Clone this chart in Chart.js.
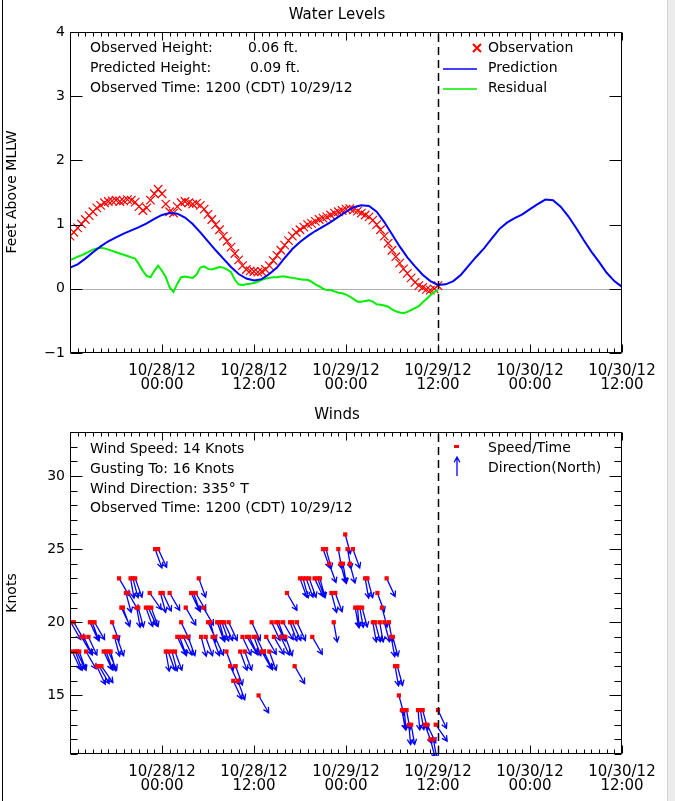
<!DOCTYPE html>
<html>
<head>
<meta charset="utf-8">
<script src="https://cdn.jsdelivr.net/npm/chart.js@4.4.0/dist/chart.umd.min.js"></script>
<style>
  body { margin: 0; width: 675px; height: 801px; overflow: hidden; position: relative; background: #fff; }
  #frame { position: absolute; left: 2px; top: 0; width: 1px; height: 801px; background: #000; }
  #bar { position: absolute; left: 667px; top: 0; width: 7px; height: 801px; background: #ececec; border-left: 1px solid #d4d4d4; }
  canvas { position: absolute; left: 0; }
</style>
</head>
<body>
<div id="frame"></div>
<div id="bar"></div>
<canvas id="waterChart" width="667" height="400" style="top:0"></canvas>
<canvas id="windChart" width="667" height="401" style="top:400px"></canvas>
<script>
// time axis is in hours from 10/27/12 12:00
const xTickHours = [12, 24, 36, 48, 60, 72];
const xTickDates = ['10/28/12', '10/28/12', '10/29/12', '10/29/12', '10/30/12', '10/30/12'];
const xTickTimes = ['00:00', '12:00', '00:00', '12:00', '00:00', '12:00'];
const nowHour = 48; // observed time 1200 10/29

// water levels (ft above MLLW)
const obsStep = 0.5; // half hourly readings
const observedHeight = [
  0.82, 0.88, 0.95, 1.01, 1.08, 1.14, 1.20, 1.26, 1.30, 1.34,
  1.36, 1.37, 1.38, 1.36, 1.37, 1.39, 1.38, 1.35, 1.28, 1.22,
  1.26, 1.38, 1.48, 1.55, 1.48, 1.32, 1.20, 1.18, 1.28, 1.34,
  1.36, 1.34, 1.32, 1.33, 1.30, 1.24, 1.16, 1.08, 1.00, 0.92,
  0.82, 0.74, 0.65, 0.55, 0.45, 0.36, 0.30, 0.28, 0.27, 0.26,
  0.27, 0.30, 0.36, 0.44, 0.52, 0.60, 0.68, 0.75, 0.82, 0.88,
  0.92, 0.96, 1.00, 1.02, 1.05, 1.08, 1.10, 1.12, 1.15, 1.18,
  1.20, 1.22, 1.24, 1.25, 1.23, 1.21, 1.18, 1.15, 1.12, 1.07,
  1.00, 0.92, 0.82, 0.71, 0.60, 0.50, 0.40, 0.31, 0.24, 0.17,
  0.10, 0.05, 0.02, -0.01, -0.02, 0.00, 0.05
];
const residualHeight = [
  0.45, 0.47, 0.50, 0.52, 0.55, 0.58, 0.61, 0.63, 0.64, 0.63,
  0.61, 0.59, 0.57, 0.55, 0.53, 0.51, 0.49, 0.47, 0.38, 0.28,
  0.20, 0.18, 0.28, 0.36, 0.28, 0.18, 0.02, -0.05, 0.08, 0.18,
  0.19, 0.18, 0.17, 0.22, 0.33, 0.35, 0.31, 0.30, 0.32, 0.34,
  0.33, 0.30, 0.26, 0.14, 0.07, 0.06, 0.07, 0.08, 0.09, 0.11,
  0.14, 0.16, 0.17, 0.18, 0.18, 0.19, 0.19, 0.18, 0.17, 0.16,
  0.15, 0.14, 0.14, 0.11, 0.07, 0.04, 0.00, -0.02, -0.02, -0.04,
  -0.06, -0.07, -0.09, -0.12, -0.16, -0.20, -0.20, -0.19, -0.18, -0.20,
  -0.24, -0.25, -0.26, -0.28, -0.32, -0.35, -0.37, -0.38, -0.36, -0.33,
  -0.30, -0.27, -0.21, -0.16, -0.10, -0.05, -0.02
];
const predStep = 1; // hourly
const predictedHeight = [
  0.33, 0.38, 0.47, 0.57, 0.66, 0.74, 0.80, 0.86, 0.91, 0.96,
  1.02, 1.09, 1.15, 1.18, 1.17, 1.11, 1.01, 0.88, 0.74, 0.60,
  0.47, 0.34, 0.23, 0.16, 0.13, 0.15, 0.23, 0.33, 0.48, 0.62,
  0.73, 0.82, 0.90, 0.97, 1.04, 1.12, 1.20, 1.27, 1.30, 1.29,
  1.20, 1.04, 0.85, 0.66, 0.49, 0.35, 0.22, 0.12, 0.06, 0.07,
  0.12, 0.22, 0.36, 0.50, 0.63, 0.78, 0.93, 1.03, 1.10, 1.16,
  1.24, 1.32, 1.39, 1.38, 1.28, 1.13, 0.95, 0.76, 0.58, 0.42,
  0.25, 0.12, 0.03
];

// winds
const windHours = [
  0.1, 0.3, 0.5, 0.7, 0.9, 1.2, 1.5, 1.8, 2.1, 2.4, 2.6, 2.9, 3.2, 3.5, 3.8, 4.1, 4.4, 4.7, 5.0, 5.3,
  5.5, 5.8, 6.1, 6.4, 6.7, 6.9, 7.3, 7.6, 7.9, 8.2, 8.5, 8.7, 8.9, 9.9, 10.2, 10.4, 10.6, 11.1, 11.5, 11.8,
  12.1, 12.5, 12.8, 13.0, 13.3, 13.7, 14.0, 14.3, 14.5, 14.8, 15.1, 15.4, 15.8, 16.1, 16.4, 16.8, 17.1, 17.4, 17.7, 18.0,
  18.3, 18.6, 18.9, 19.2, 19.5, 19.8, 20.1, 20.4, 20.7, 20.9, 21.3, 21.6, 21.9, 22.2, 22.5, 22.8, 23.1, 23.4, 23.7, 24.0,
  24.3, 24.6, 25.0, 25.3, 25.6, 26.0, 26.3, 26.6, 26.9, 27.2, 27.5, 27.8, 28.1, 28.3, 28.7, 29.0, 29.3, 29.6, 30.0, 30.4,
  30.8, 31.2, 31.6, 31.9, 32.3, 32.6, 33.0, 33.4, 33.8, 34.1, 34.4, 34.6, 35.0, 35.3, 35.6, 35.9, 36.2, 36.5, 36.9, 37.2,
  37.5, 37.8, 38.1, 38.5, 38.8, 39.5, 39.8, 40.1, 40.4, 40.7, 41.0, 41.3, 41.6, 41.9, 42.1, 42.4, 42.7, 42.9, 43.3, 43.6,
  43.9, 44.2, 44.5, 45.4, 45.7, 46.0, 46.3, 46.6, 47.0, 47.4, 47.7, 48.0
];
const windSpeeds = [
  20, 18, 20, 18, 18, 18, 19, 19, 18, 19, 20, 20, 20, 17, 17, 17, 18, 18, 18, 18,
  20, 19, 19, 23, 21, 21, 22, 22, 23, 23, 23, 21, 21, 21, 21, 22, 21, 25, 25, 22,
  22, 18, 18, 22, 18, 18, 19, 19, 20, 19, 21, 19, 22, 22, 22, 23, 19, 21, 19, 20,
  20, 19, 19, 20, 20, 20, 20, 18, 20, 17, 16, 17, 16, 18, 19, 18, 19, 19, 20, 19,
  19, 15, 18, 18, 19, 18, 20, 19, 20, 20, 19, 20, 19, 22, 20, 20, 17, 20, 23, 23,
  23, 23, 19, 23, 23, 23, 25, 25, 24, 22, 20, 22, 25, 24, 24, 26, 25, 24, 25, 21,
  21, 21, 21, 23, 23, 20, 20, 22, 20, 21, 20, 23, 20, 19, 19, 17, 17, 15, 14, 14,
  14, 13, 13, 14, 14, 14, 13, 13, 12, 12, 13, 14
];
const windDirs = [
  330, 335, 330, 340, 335, 340, 330, 335, 330, 335, 335, 340, 330, 335, 330, 325, 335, 340, 335, 345,
  340, 345, 340, 330, 335, 340, 345, 330, 350, 345, 340, 350, 345, 340, 335, 325, 340, 340, 335, 345,
  335, 350, 340, 330, 345, 340, 335, 340, 335, 335, 330, 340, 335, 340, 330, 340, 345, 330, 340, 335,
  345, 340, 335, 340, 345, 340, 335, 340, 335, 335, 335, 340, 340, 340, 335, 340, 330, 335, 335, 340,
  335, 330, 330, 335, 330, 340, 335, 330, 335, 340, 335, 330, 340, 330, 340, 335, 330, 335, 340, 345,
  340, 340, 330, 335, 340, 345, 340, 345, 340, 345, 350, 340, 350, 345, 350, 345, 350, 345, 340, 350,
  355, 350, 345, 350, 345, 350, 345, 340, 350, 345, 345, 335, 350, 350, 345, 350, 345, 345, 350, 355,
  350, 355, 350, 355, 350, 345, 340, 335, 345, 350, 325, 335
];

const FONT = 'DejaVu Sans';
const RED = '#ff0000', BLUE = '#0000ff', GREEN = '#00ee00';

function xLabel(v) {
  const i = xTickHours.indexOf(v);
  return i < 0 ? '' : [xTickDates[i], xTickTimes[i]];
}

function axisOptions(yMin, yMax, yLabels) {
  return {
    x: {
      type: 'linear', min: 0, max: 72,
      afterFit: s => { s.height = 47; },
      afterBuildTicks: s => { s.ticks = [0].concat(xTickHours).map(v => ({ value: v })); },
      grid: { display: false, drawTicks: false }, border: { display: false },
      ticks: { autoSkip: false, maxRotation: 0, padding: 11, color: '#000',
        font: { family: FONT, size: 15, lineHeight: 0.93 }, callback: xLabel }
    },
    y: {
      min: yMin, max: yMax,
      afterFit: s => { s.width = 70; },
      afterBuildTicks: s => { s.ticks = yLabels.map(v => ({ value: v })); },
      grid: { display: false, drawTicks: false }, border: { display: false },
      ticks: { padding: 5, color: '#000', font: { family: FONT, size: 14 },
        callback: v => String(v).replace('-', '\u2212') }
    }
  };
}

// plot box with inward ticks on all four sides
function drawBox(chart, yStep, yMajor) {
  const { ctx, chartArea: a, scales: { x, y } } = chart;
  ctx.save();
  ctx.strokeStyle = '#000';
  ctx.lineWidth = 1;
  const L = Math.round(a.left) + 0.5, R = Math.round(a.right) - 0.5;
  const T = Math.round(a.top) + 0.5, B = Math.round(a.bottom) - 0.5;
  ctx.beginPath();
  ctx.rect(L, T, R - L, B - T);
  for (let h = 0; h <= 72; h++) {
    const px = Math.round(x.getPixelForValue(h)) + 0.5;
    const len = h % 12 === 0 ? 8 : 4;
    ctx.moveTo(px, B); ctx.lineTo(px, B - len);
    ctx.moveTo(px, T); ctx.lineTo(px, T + len);
  }
  for (let v = y.min; v <= y.max; v += yStep) {
    const py = Math.round(y.getPixelForValue(v)) + 0.5;
    const len = v % yMajor === 0 ? 12 : 7;
    ctx.moveTo(L, py); ctx.lineTo(L + len, py);
    ctx.moveTo(R, py); ctx.lineTo(R - len, py);
  }
  ctx.stroke();
  ctx.restore();
}

function drawNowLine(chart) {
  const { ctx, chartArea: a, scales: { x } } = chart;
  const px = Math.round(x.getPixelForValue(nowHour)) + 0.5;
  ctx.save();
  ctx.strokeStyle = '#000';
  ctx.lineWidth = 1.5;
  ctx.setLineDash([8, 5]);
  ctx.beginPath();
  ctx.moveTo(px, a.top + 2); ctx.lineTo(px, a.bottom);
  ctx.stroke();
  ctx.restore();
}

function text(ctx, s, x, y, opts) {
  ctx.save();
  ctx.fillStyle = '#000';
  ctx.font = (opts && opts.size || 14) + 'px "' + FONT + '"';
  ctx.textAlign = opts && opts.align || 'left';
  ctx.textBaseline = 'middle';
  if (opts && opts.rotate) {
    ctx.translate(x, y); ctx.rotate(-Math.PI / 2); ctx.fillText(s, 0, 0);
  } else {
    ctx.fillText(s, x, y);
  }
  ctx.restore();
}

function arrow(ctx, x0, y0, x1, y1) {
  const ang = Math.atan2(y1 - y0, x1 - x0);
  const hl = 6;
  ctx.moveTo(x0, y0); ctx.lineTo(x1, y1);
  ctx.moveTo(x1 - hl * Math.cos(ang - 0.5), y1 - hl * Math.sin(ang - 0.5));
  ctx.lineTo(x1, y1);
  ctx.lineTo(x1 - hl * Math.cos(ang + 0.5), y1 - hl * Math.sin(ang + 0.5));
}

const waterDecor = {
  id: 'waterDecor',
  beforeDatasetsDraw(chart) {
    const { ctx, chartArea: a, scales: { y } } = chart;
    const py = Math.round(y.getPixelForValue(0)) + 0.5;
    ctx.save();
    ctx.strokeStyle = '#b0b0b0';
    ctx.lineWidth = 1;
    ctx.beginPath(); ctx.moveTo(a.left, py); ctx.lineTo(a.right, py); ctx.stroke();
    ctx.restore();
  },
  afterDraw(chart) {
    const ctx = chart.ctx;
    drawBox(chart, 1, 1);
    drawNowLine(chart);
    text(ctx, 'Water Levels', 337, 15, { align: 'center', size: 15 });
    text(ctx, 'Feet Above MLLW', 12, 192, { align: 'center', rotate: true });
    text(ctx, 'Observed Height:', 90, 48);
    text(ctx, '0.06 ft.', 248, 48);
    text(ctx, 'Predicted Height:', 90, 68);
    text(ctx, '0.09 ft.', 250, 68);
    text(ctx, 'Observed Time: 1200 (CDT) 10/29/12', 90, 88);
    // legend
    ctx.save();
    ctx.strokeStyle = RED; ctx.lineWidth = 2;
    ctx.beginPath();
    ctx.moveTo(473, 44); ctx.lineTo(481, 52); ctx.moveTo(481, 44); ctx.lineTo(473, 52);
    ctx.stroke();
    ctx.lineWidth = 1.5;
    ctx.strokeStyle = BLUE;
    ctx.beginPath(); ctx.moveTo(443, 69); ctx.lineTo(477, 69); ctx.stroke();
    ctx.strokeStyle = GREEN;
    ctx.beginPath(); ctx.moveTo(443, 89); ctx.lineTo(477, 89); ctx.stroke();
    ctx.restore();
    text(ctx, 'Observation', 488, 48);
    text(ctx, 'Prediction', 488, 68);
    text(ctx, 'Residual', 488, 88);
  }
};

const windDecor = {
  id: 'windDecor',
  beforeDatasetsDraw(chart) {
    const ctx = chart.ctx;
    const meta = chart.getDatasetMeta(0);
    ctx.save();
    ctx.beginPath();
    ctx.rect(chart.chartArea.left, chart.chartArea.top - 2, chart.chartArea.width, chart.chartArea.height + 4);
    ctx.clip();
    ctx.strokeStyle = BLUE;
    ctx.lineWidth = 1.3;
    ctx.beginPath();
    meta.data.forEach((pt, i) => {
      const heading = (windDirs[i] + 180) * Math.PI / 180;
      const len = 20;
      arrow(ctx, pt.x, pt.y, pt.x + Math.sin(heading) * len, pt.y - Math.cos(heading) * len);
    });
    ctx.stroke();
    ctx.restore();
  },
  afterDraw(chart) {
    const ctx = chart.ctx;
    drawBox(chart, 1, 5);
    drawNowLine(chart);
    text(ctx, 'Winds', 337, 15, { align: 'center', size: 15 });
    text(ctx, 'Knots', 12, 193, { align: 'center', rotate: true });
    text(ctx, 'Wind Speed: 14 Knots', 90, 49);
    text(ctx, 'Gusting To: 16 Knots', 90, 69);
    text(ctx, 'Wind Direction: 335\u00b0 T', 90, 89);
    text(ctx, 'Observed Time: 1200 (CDT) 10/29/12', 90, 108);
    ctx.save();
    ctx.fillStyle = RED;
    ctx.fillRect(454, 45, 5, 3);
    ctx.strokeStyle = BLUE; ctx.lineWidth = 1.3;
    ctx.beginPath();
    arrow(ctx, 457, 76, 457, 57);
    ctx.stroke();
    ctx.restore();
    text(ctx, 'Speed/Time', 488, 48);
    text(ctx, 'Direction(North)', 488, 68);
  }
};

const commonPlugins = { legend: { display: false }, tooltip: { enabled: false }, title: { display: false } };

new Chart(document.getElementById('waterChart'), {
  type: 'scatter',
  data: {
    datasets: [
      { label: 'Prediction', data: predictedHeight.map((v, i) => ({ x: i * predStep, y: v })),
        showLine: true, borderColor: BLUE, borderWidth: 2, pointRadius: 0 },
      { label: 'Residual', data: residualHeight.map((v, i) => ({ x: i * obsStep, y: v })),
        showLine: true, borderColor: GREEN, borderWidth: 2, pointRadius: 0 },
      { label: 'Observation', data: observedHeight.map((v, i) => ({ x: i * obsStep, y: v })),
        showLine: false, pointStyle: 'crossRot', pointRadius: 6, borderColor: RED, borderWidth: 1.2 }
    ]
  },
  options: {
    responsive: false, animation: false, events: [],
    layout: { padding: { top: 32, right: 45, left: 0, bottom: 0 } },
    plugins: commonPlugins,
    scales: axisOptions(-1, 4, [-1, 0, 1, 2, 3, 4])
  },
  plugins: [waterDecor]
});

new Chart(document.getElementById('windChart'), {
  type: 'scatter',
  data: {
    datasets: [
      { label: 'Speed/Time', data: windSpeeds.map((v, i) => ({ x: windHours[i], y: v })),
        pointStyle: 'rect', pointRadius: 3, backgroundColor: RED, borderWidth: 0 }
    ]
  },
  options: {
    responsive: false, animation: false, events: [],
    layout: { padding: { top: 32, right: 45, left: 0, bottom: 0 } },
    plugins: commonPlugins,
    scales: axisOptions(11, 33, [15, 20, 25, 30])
  },
  plugins: [windDecor]
});
</script>
</body>
</html>
